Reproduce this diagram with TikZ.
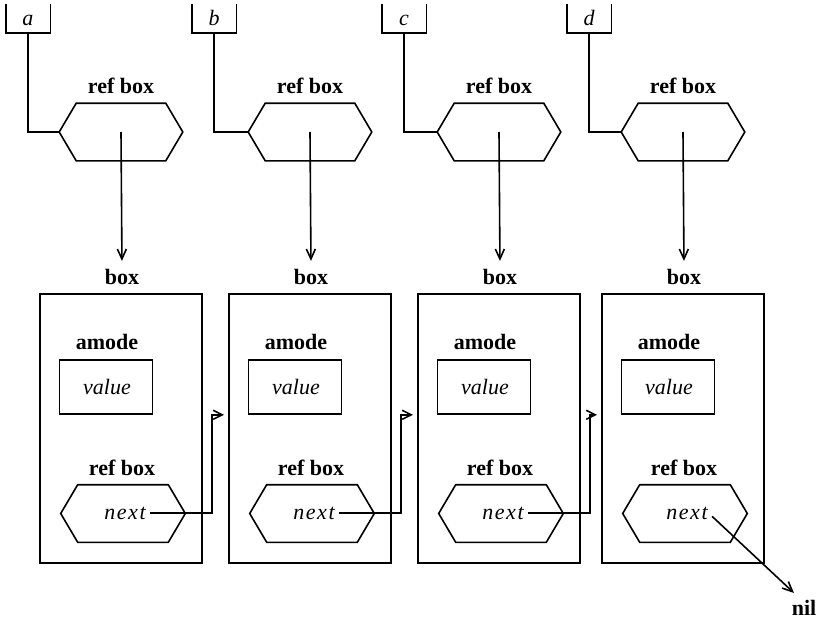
\documentclass[tikz,border=0pt]{standalone}
\usepackage{fontspec}
\setmainfont{Liberation Serif}
\usetikzlibrary{arrows.meta,calc}
\begin{document}
\begin{tikzpicture}[x=1pt,y=-1pt,
  line width=1.6pt,
  lbl/.style={font=\fontsize{22}{24}\selectfont\bfseries, inner sep=0pt},
  itl/.style={font=\fontsize{22}{24}\selectfont\itshape, inner sep=0pt},
  nxt/.style={font=\fontsize{22}{24}\selectfont\itshape\addfontfeature{LetterSpace=7}, inner sep=0pt},
  hexspace/.style={minimum width=#1, minimum height=56pt, inner sep=0pt},
  varbox/.style={minimum width=43pt, minimum height=27pt, inner sep=0pt},
  bigbox/.style={draw, line width=2pt, minimum width=162pt, minimum height=269pt, inner sep=0pt},
  valbox/.style={draw, minimum width=93pt, minimum height=54pt, inner sep=0pt},
  arr/.style={-{Straight Barb[length=10pt,width=9pt,line width=1.6pt]}},
  larr/.style={-{Straight Barb[length=9pt,width=9pt,line width=1.6pt]}},
  ]
\useasboundingbox (0,0) rectangle (823,621);

\foreach \i/\C/\S/\v in {1/121/28/a, 2/310/214/b, 3/499/404/c, 4/683/589/d}{
  % variable box (open at top)
  \node[varbox] (var\i) at (\S,18.5) {};
  \draw (var\i.north west) -- (var\i.south west) -- (var\i.south east) -- (var\i.north east);
  \node[itl, anchor=base] at (\S,25) {\v};
  % upper ref box (hexagon)
  \node[hexspace=122pt] (rh\i) at ({\C},132) {};
  \draw (rh\i.west) -- ($(rh\i.north west)+(17,0)$) -- ($(rh\i.north east)+(-17,0)$)
        -- (rh\i.east) -- ($(rh\i.south east)+(-17,0)$) -- ($(rh\i.south west)+(17,0)$) -- cycle;
  \node[lbl, anchor=base] at ({\C},93) {ref box};
  \draw (var\i.south) |- (rh\i.west);
  % box
  \node[lbl, anchor=base] (bl\i) at ({\C+1},284) {box};
  \node[bigbox] (bx\i) at ({\C},428.5) {};
  \draw[arr, shorten >=7pt] (rh\i.center) -- (bl\i.north);
  % amode
  \node[lbl, anchor=base] at ({\C-14},349) {amode};
  \node[valbox] (vb\i) at ({\C-15},387) {};
  \node[itl, anchor=base] at ({\C-14},394) {value};
  % lower ref box
  \node[lbl, anchor=base] at ({\C+1},475) {ref box};
  \node[hexspace=123pt] (nh\i) at ({\C+2},513.5) {};
  \draw (nh\i.west) -- ($(nh\i.north west)+(17,0)$) -- ($(nh\i.north east)+(-17,0)$)
        -- (nh\i.east) -- ($(nh\i.south east)+(-17,0)$) -- ($(nh\i.south west)+(17,0)$) -- cycle;
  \node[nxt, anchor=base] (nt\i) at ({\C+4},519) {next};
}

\foreach \i/\j in {1/2,2/3,3/4}{
  \coordinate (k\i) at ($(bx\i.east |- nt\i.east)+(9,0)$);
  \coordinate (tip\i) at ($(bx\j.west |- vb\j.south)+(-4,0)$);
  \draw[larr, shorten <=4pt] (nt\i.east) -- (k\i) |- (tip\i);
}

\node[lbl, anchor=base] (nil) at (804,615) {nil};
\coordinate (nilend) at (794,593);
\draw[arr, shorten <=5pt] (nt4.east) -- (nilend);
\end{tikzpicture}
\end{document}
